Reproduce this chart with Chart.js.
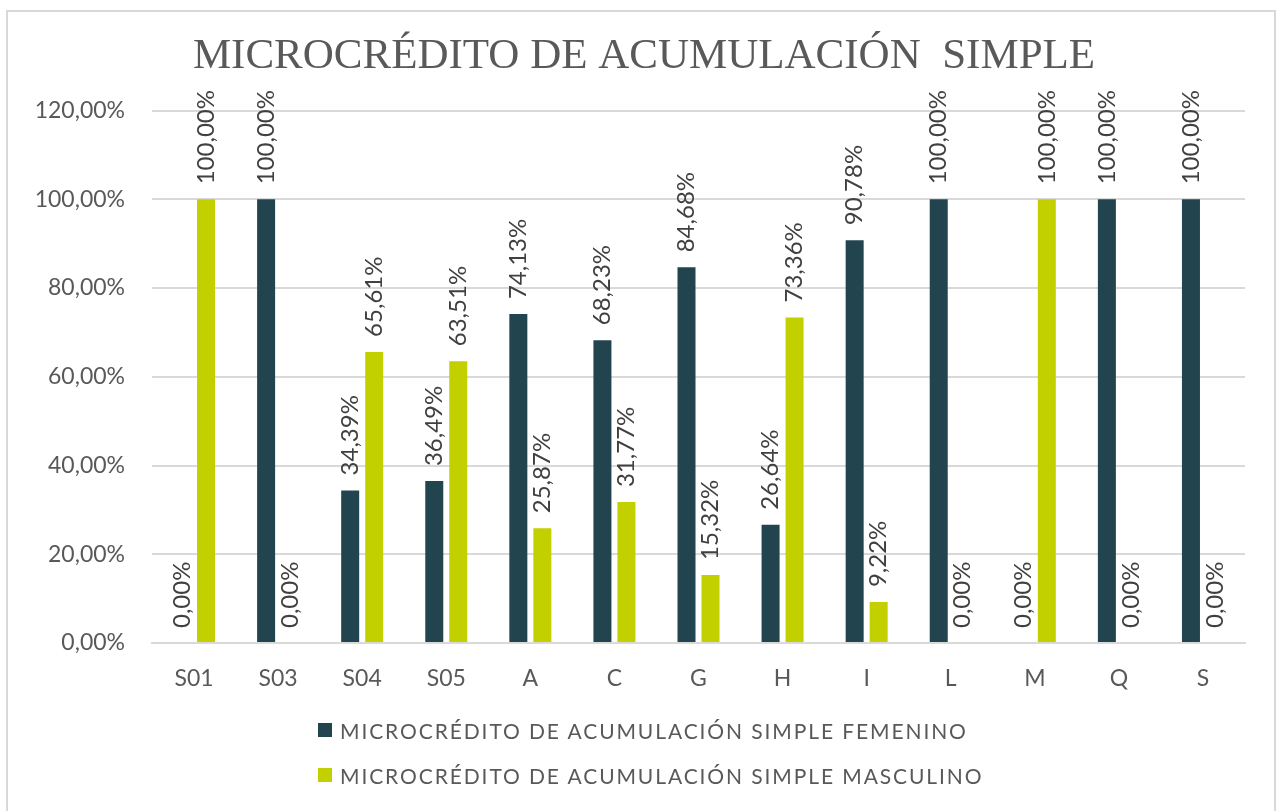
<!DOCTYPE html>
<html>
<head>
<meta charset="utf-8">
<script src="https://cdn.jsdelivr.net/npm/chart.js@4.4.1/dist/chart.umd.min.js"></script>
<style>
  html, body { margin: 0; padding: 0; background: #ffffff; }
  #wrap { position: relative; width: 1288px; height: 811px; overflow: hidden; }
  #frame { position: absolute; left: 6px; top: 10px; width: 1270px; height: 820px; border: 2px solid #d9d9d9; box-sizing: border-box; }
  canvas { position: absolute; left: 0; top: 0; }
  #legend { position: absolute; left: 318px; top: 716px; font-family: Lato, "Open Sans", sans-serif; font-size: 21px; letter-spacing: 1.9px; color: #595959; }
  .item { display: flex; align-items: center; height: 28px; margin-bottom: 17px; white-space: nowrap; }
  .box { width: 14px; height: 14px; margin-right: 8px; }
</style>
</head>
<body>
<div id="wrap">
  <div id="frame"></div>
  <canvas id="c" width="1288" height="811"></canvas>
  <div id="legend"></div>
</div>
<script>
const categories = ["S01","S03","S04","S05","A","C","G","H","I","L","M","Q","S"];
const femenino  = [0, 100, 34.39, 36.49, 74.13, 68.23, 84.68, 26.64, 90.78, 100, 0, 100, 100];
const masculino = [100, 0, 65.61, 63.51, 25.87, 31.77, 15.32, 73.36, 9.22, 0, 100, 0, 0];
const seriesNames = ["MICROCRÉDITO DE ACUMULACIÓN SIMPLE FEMENINO", "MICROCRÉDITO DE ACUMULACIÓN SIMPLE MASCULINO"];
const chartTitle = "MICROCRÉDITO DE ACUMULACIÓN  SIMPLE";
const colors = ["#21444f", "#c3d000"];

const fmt = v => v.toFixed(2).replace('.', ',') + '%';
const FONT = 'Lato, "Open Sans", sans-serif';

const labelPlugin = {
  id: 'barLabels',
  afterDatasetsDraw(chart) {
    const ctx = chart.ctx;
    ctx.save();
    ctx.font = '24px ' + FONT;
    ctx.fillStyle = '#404040';
    ctx.textAlign = 'left';
    ctx.textBaseline = 'middle';
    chart.data.datasets.forEach((ds, di) => {
      const meta = chart.getDatasetMeta(di);
      meta.data.forEach((el, i) => {
        ctx.save();
        ctx.translate(el.x, el.y - 15);
        ctx.rotate(-Math.PI / 2);
        ctx.fillText(fmt(ds.data[i]), 0, 0);
        ctx.restore();
      });
    });
    ctx.restore();
  }
};

new Chart(document.getElementById('c'), {
  type: 'bar',
  data: {
    labels: categories,
    datasets: [
      { label: seriesNames[0], data: femenino, backgroundColor: colors[0] },
      { label: seriesNames[1], data: masculino, backgroundColor: colors[1] }
    ]
  },
  options: {
    responsive: false,
    animation: false,
    datasets: { bar: { categoryPercentage: 0.571, barPercentage: 0.75 } },
    layout: { padding: { left: 10, right: 10, top: 0, bottom: 108 } },
    plugins: {
      legend: { display: false },
      tooltip: { enabled: false },
      title: {
        display: true,
        text: chartTitle,
        color: '#595959',
        font: { family: '"Liberation Serif", "Times New Roman", serif', size: 43, weight: 'normal' },
        padding: { top: 31, bottom: 28 }
      }
    },
    scales: {
      x: {
        grid: { display: false },
        border: { display: true, color: '#d9d9d9', width: 2 },
        ticks: { color: '#595959', font: { family: FONT, size: 23 }, padding: 14 },
        afterFit(s) { s.height = 60; }
      },
      y: {
        min: 0, max: 120,
        ticks: { stepSize: 20, color: '#595959', font: { family: FONT, size: 23 }, padding: 27, callback: v => fmt(v) },
        grid: { color: '#d9d9d9', lineWidth: 2, drawTicks: false },
        border: { display: false },
        afterFit(s) { s.width = 142; }
      },
      yRight: {
        position: 'right',
        min: 0, max: 120,
        ticks: { display: false },
        grid: { display: false, drawTicks: false },
        border: { display: false },
        afterFit(s) { s.width = 33; }
      }
    }
  },
  plugins: [labelPlugin]
});

const lg = document.getElementById('legend');
seriesNames.forEach((n, i) => {
  const d = document.createElement('div');
  d.className = 'item';
  const b = document.createElement('span');
  b.className = 'box';
  b.style.background = colors[i];
  const t = document.createElement('span');
  t.textContent = n;
  d.appendChild(b); d.appendChild(t);
  lg.appendChild(d);
});
</script>
</body>
</html>
